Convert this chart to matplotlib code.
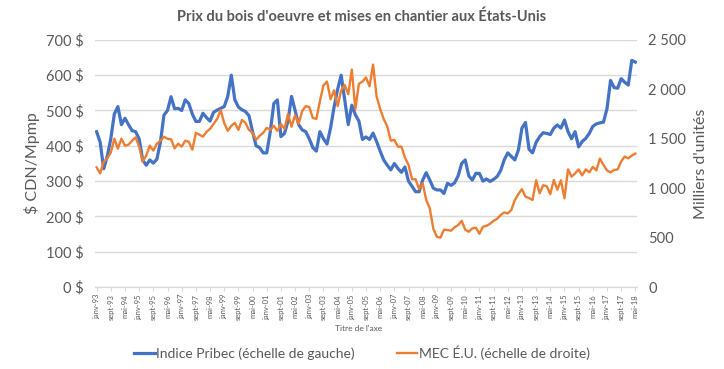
import numpy as np
import matplotlib
matplotlib.use("Agg")
import matplotlib.pyplot as plt
from matplotlib.ticker import FuncFormatter

plt.rcParams['font.family'] = ['Lato', 'DejaVu Sans']

# donnees, un point tous les 2 mois (janv-93 -> mai-18)
pribec = [440, 410, 335, 370, 420, 490, 511, 460, 478, 460, 443, 440, 420, 360, 345, 360,
          351, 362, 410, 487, 500, 539, 505, 506, 500, 530, 520, 490, 469, 469, 492, 480,
          470, 495, 501, 506, 511, 540, 600, 530, 510, 502, 497, 485, 440, 400, 395, 380,
          380, 440, 520, 530, 426, 435, 470, 540, 500, 460, 445, 440, 420, 395, 385, 440,
          420, 405, 450, 510, 560, 600, 530, 460, 515, 488, 470, 418, 425, 418, 436, 412,
          385, 360, 345, 332, 350, 336, 325, 340, 300, 285, 270, 270, 303, 324, 303, 280,
          275, 275, 265, 294, 288, 295, 315, 350, 360, 315, 303, 322, 322, 300, 306, 299,
          305, 313, 330, 360, 380, 370, 360, 388, 450, 466, 390, 380, 410, 426, 437, 435,
          432, 450, 459, 450, 473, 440, 420, 440, 397, 412, 421, 435, 455, 462, 465, 467,
          505, 585, 565, 563, 590, 580, 572, 642, 637]

mec = [1211, 1150, 1268, 1300, 1360, 1500, 1400, 1500, 1430, 1440, 1480, 1514, 1420, 1268,
       1330, 1430, 1380, 1450, 1480, 1520, 1500, 1495, 1403, 1450, 1420, 1480, 1470, 1390,
       1560, 1540, 1521, 1570, 1600, 1650, 1700, 1791, 1660, 1580, 1630, 1660, 1590, 1690,
       1660, 1589, 1560, 1490, 1530, 1560, 1610, 1590, 1630, 1580, 1650, 1600, 1750, 1622,
       1740, 1650, 1780, 1830, 1820, 1710, 1700, 1880, 2040, 2078, 1900, 1990, 1830, 1990,
       2044, 1950, 2200, 1800, 2055, 2078, 2120, 2030, 2250, 1926, 1800, 1700, 1625, 1480,
       1488, 1420, 1420, 1310, 1235, 1090, 1090, 990, 1050, 880, 796, 590, 509, 500,
       580, 577, 570, 605, 627, 670, 580, 560, 594, 600, 540, 610, 620, 640, 670, 690,
       729, 755, 745, 779, 880, 940, 990, 914, 900, 881, 1080, 948, 1030, 1020, 940, 1083,
       985, 1080, 898, 1190, 1117, 1150, 1190, 1130, 1190, 1160, 1215, 1180, 1300, 1235,
       1180, 1160, 1184, 1190, 1270, 1320, 1302, 1330, 1350]

mois = ['janv', 'févr', 'mars', 'avr', 'mai', 'juin', 'juil', 'août', 'sept', 'oct', 'nov', 'déc']
debut_annee = 1993

m = np.arange(len(pribec)) * 2
ticks = np.arange(0, 305, 8)
tick_labels = [f"{mois[t % 12]}-{(debut_annee + t // 12) % 100:02d}" for t in ticks]

blue = '#4472C4'
orange = '#ED7D31'
txt = '#595959'

fig = plt.figure(figsize=(7.24, 3.69), dpi=100)
ax = fig.add_axes([0.131, 0.222, 0.749, 0.670])
ax2 = ax.twinx()

l1, = ax.plot(m, pribec, color=blue, lw=2.3, solid_joinstyle='round')
l2, = ax2.plot(m, mec, color=orange, lw=1.7, solid_joinstyle='round')

ax.set_ylim(0, 700)
ax.set_yticks(range(0, 701, 100))
ax.yaxis.set_major_formatter(FuncFormatter(lambda v, p: f"{int(v)} $"))
ax2.set_ylim(0, 2500)
ax2.set_yticks(range(0, 2501, 500))
ax2.yaxis.set_major_formatter(FuncFormatter(lambda v, p: f"{int(v):,}".replace(',', ' ')))

ax.set_xlim(-1, 305)
ax.set_xticks(ticks)
ax.set_xticklabels(tick_labels, rotation=90, fontsize=5.5, color=txt)
ax.tick_params(axis='x', length=3, color='#d9d9d9', pad=2)
ax.tick_params(axis='y', length=0, labelsize=10.5, labelcolor=txt, pad=8)
ax2.tick_params(axis='y', length=0, labelsize=10.5, labelcolor=txt, pad=8)

ax.grid(axis='y', color='#d9d9d9', lw=1)
ax.set_axisbelow(True)
for a in (ax, ax2):
    for s in ('top', 'left', 'right'):
        a.spines[s].set_visible(False)
    a.spines['bottom'].set_color('#d9d9d9')

ax.set_ylabel('$ CDN/Mpmp', fontsize=11.5, color=txt, labelpad=4)
ax2.set_ylabel("Milliers d'unités", fontsize=11.5, color=txt, labelpad=6)
fig.text(0.495, 0.102, "Titre de l'axe", fontsize=6, color=txt, ha='center')

fig.suptitle("Prix du bois d'oeuvre et mises en chantier aux États-Unis",
             x=0.5, y=0.975, fontsize=10.5, fontweight='bold', color=txt)

fig.legend([l1, l2], ['Indice Pribec (échelle de gauche)', 'MEC É.U. (échelle de droite)'],
           loc='center', bbox_to_anchor=(0.5, 0.045), ncol=2, frameon=False,
           fontsize=10, handlelength=1.5, handletextpad=0.1, columnspacing=3,
           labelcolor=txt)

fig.savefig('out.png', dpi=100)
